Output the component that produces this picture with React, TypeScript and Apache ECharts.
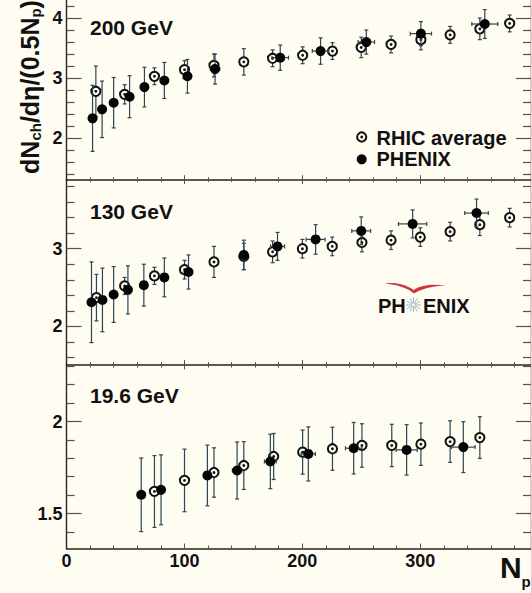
import React, { useEffect, useRef } from 'react';
import * as echarts from 'echarts';

const W = 531;
const H = 593;
const BG = '#fffcf2';
const INK = '#111111';
const LINE = '#2a2222';
const TICK = '#4a5558';
const ERR = '#2c4652';
const FONT = '"Liberation Sans", Arial, Helvetica, sans-serif';

// ---------- data: 200 GeV ----------
const phenix200Np = [22.1, 30.2, 40.0, 53.5, 66.1, 83.0, 102.6, 126.0, 181.3, 215.5, 254.3, 300.6, 354.8];
const phenix200Val = [2.33, 2.48, 2.59, 2.69, 2.85, 2.96, 3.03, 3.15, 3.34, 3.45, 3.60, 3.74, 3.90];
const phenix200Err = [0.55, 0.47, 0.42, 0.35, 0.33, 0.30, 0.28, 0.25, 0.21, 0.22, 0.20, 0.20, 0.24];
const phenix200NpErr = [0, 0, 0, 0, 0, 0, 0, 4, 7, 7, 7, 9, 11];
const rhic200Np = [24.9, 49.3, 74.6, 100.1, 125.1, 150.4, 174.8, 200.3, 225.6, 250.0, 275.3, 300.6, 325.4, 350.6, 375.9];
const rhic200Val = [2.78, 2.73, 3.03, 3.14, 3.21, 3.27, 3.33, 3.38, 3.45, 3.51, 3.56, 3.64, 3.72, 3.82, 3.91];
const rhic200Err = [0.42, 0.16, 0.14, 0.15, 0.19, 0.22, 0.14, 0.14, 0.14, 0.17, 0.14, 0.17, 0.14, 0.18, 0.14];

// ---------- data: 130 GeV ----------
const phenix130Np = [21.2, 30.5, 40.0, 52.1, 65.6, 83.0, 103.5, 150.4, 179.0, 211.3, 250.0, 293.6, 347.8];
const phenix130Val = [2.31, 2.34, 2.41, 2.47, 2.53, 2.63, 2.70, 2.92, 3.03, 3.12, 3.23, 3.32, 3.46];
const phenix130Err = [0.52, 0.41, 0.36, 0.31, 0.27, 0.25, 0.22, 0.19, 0.18, 0.19, 0.18, 0.18, 0.18];
const phenix130NpErr = [0, 0, 0, 0, 0, 0, 0, 0, 6, 8, 8, 12, 10];
const rhic130Np = [25.4, 49.3, 74.6, 100.1, 125.1, 150.4, 174.8, 200.1, 225.4, 250.6, 275.3, 300.1, 325.4, 350.6, 375.9];
const rhic130Val = [2.37, 2.52, 2.65, 2.73, 2.83, 2.90, 2.96, 3.00, 3.03, 3.08, 3.11, 3.15, 3.22, 3.31, 3.40];
const rhic130Err = [0.30, 0.11, 0.11, 0.12, 0.20, 0.17, 0.14, 0.12, 0.12, 0.12, 0.12, 0.12, 0.12, 0.14, 0.12];

// ---------- data: 19.6 GeV ----------
const phenix19Np = [63.4, 80.2, 119.5, 144.7, 172.9, 205.1, 243.6, 288.5, 336.6];
const phenix19Val = [1.602, 1.629, 1.707, 1.734, 1.783, 1.824, 1.855, 1.846, 1.861];
const phenix19Err = [0.20, 0.19, 0.165, 0.155, 0.148, 0.147, 0.14, 0.137, 0.138];
const phenix19NpErr = [0, 0, 3, 4, 5, 6, 7, 9, 10];
const rhic19Np = [74.6, 100.1, 125.1, 150.4, 175.7, 200.3, 225.6, 250.6, 275.9, 300.6, 325.4, 350.6];
const rhic19Val = [1.62, 1.68, 1.723, 1.761, 1.81, 1.834, 1.852, 1.87, 1.87, 1.877, 1.891, 1.913];
const rhic19Err = [0.195, 0.17, 0.134, 0.13, 0.125, 0.12, 0.117, 0.118, 0.115, 0.115, 0.113, 0.113];

// ---------- axis ticks / labels ----------
const xTickLabels = [0, 100, 200, 300];
const xMajorTicks = [100, 200, 300];
const xMinorTicks = [20, 40, 60, 80, 120, 140, 160, 180, 220, 240, 260, 280, 320, 340, 360, 380];
const yLabels200 = [2, 3, 4];
const yMinor200 = [1.4, 1.6, 1.8, 2.2, 2.4, 2.6, 2.8, 3.2, 3.4, 3.6, 3.8, 4.2];
const yLabels130 = [2, 3];
const yMinor130 = [1.6, 1.8, 2.2, 2.4, 2.6, 2.8, 3.2, 3.4, 3.6, 3.8];
const yLabels19 = [1.5, 2];
const yMinor19 = [1.4, 1.6, 1.7, 1.8, 1.9, 2.1, 2.2, 2.3];
const panelLabels = ['200 GeV', '130 GeV', '19.6 GeV'];

const X_MAX = 394;

const swooshPath =
  'M0 0 C 10 -1.5 21 1 28.5 6.5 C 36 1.5 47 0.5 61 2 C 48 2.5 37 5 29 10 C 22 4 11 1 0 0 Z';

function toData(np: number[], val: number[], err: number[], npErr?: number[]) {
  return np.map((x, i) => [x, val[i], err[i], npErr ? npErr[i] : 0]);
}

function makeRender(kind: 'open' | 'filled') {
  return (params: any, api: any) => {
    const x = api.value(0);
    const y = api.value(1);
    const ey = api.value(2);
    const ex = api.value(3);
    const c = api.coord([x, y]);
    const t = api.coord([x, y + ey]);
    const b = api.coord([x, y - ey]);
    const st = { stroke: ERR, lineWidth: 1.2 };
    const children: any[] = [
      { type: 'line', shape: { x1: c[0], y1: t[1], x2: c[0], y2: b[1] }, style: st },
      { type: 'line', shape: { x1: c[0] - 2, y1: t[1], x2: c[0] + 2, y2: t[1] }, style: st },
      { type: 'line', shape: { x1: c[0] - 2, y1: b[1], x2: c[0] + 2, y2: b[1] }, style: st },
    ];
    if (ex > 0) {
      const l = api.coord([x - ex, y]);
      const r = api.coord([x + ex, y]);
      children.push(
        { type: 'line', shape: { x1: l[0], y1: c[1], x2: r[0], y2: c[1] }, style: st },
        { type: 'line', shape: { x1: l[0], y1: c[1] - 2, x2: l[0], y2: c[1] + 2 }, style: st },
        { type: 'line', shape: { x1: r[0], y1: c[1] - 2, x2: r[0], y2: c[1] + 2 }, style: st }
      );
    }
    if (kind === 'open') {
      children.push(
        { type: 'circle', shape: { cx: c[0], cy: c[1], r: 4.6 }, style: { fill: BG, stroke: INK, lineWidth: 2 } },
        { type: 'circle', shape: { cx: c[0], cy: c[1], r: 1.4 }, style: { fill: INK } }
      );
    } else {
      children.push({ type: 'circle', shape: { cx: c[0], cy: c[1], r: 5 }, style: { fill: '#050505' } });
    }
    return { type: 'group', children };
  };
}

const labelStyle = { color: INK, fontSize: 18, fontWeight: 'bold' as const, fontFamily: FONT };

function xAxes(g: number, showLabels: boolean, showTopTicks: boolean) {
  const base = { type: 'value', gridIndex: g, min: 0, max: X_MAX, splitLine: { show: false } };
  const tickStyle = { color: TICK, width: 1 };
  return [
    {
      ...base,
      position: 'bottom',
      axisLine: { show: true, onZero: false, lineStyle: { color: LINE, width: 1.5 } },
      axisTick: { show: true, inside: true, length: 5, customValues: xMajorTicks, lineStyle: tickStyle },
      axisLabel: { show: showLabels, customValues: xTickLabels, margin: 3, ...labelStyle },
    },
    {
      ...base,
      position: 'bottom',
      axisLine: { show: false, onZero: false },
      axisTick: { show: true, inside: true, length: 3, customValues: xMinorTicks, lineStyle: tickStyle },
      axisLabel: { show: false },
    },
    {
      ...base,
      position: 'top',
      axisLine: { show: false, onZero: false },
      axisTick: { show: showTopTicks, inside: true, length: 5, customValues: xMajorTicks, lineStyle: tickStyle },
      axisLabel: { show: false },
    },
    {
      ...base,
      position: 'top',
      axisLine: { show: false, onZero: false },
      axisTick: { show: showTopTicks, inside: true, length: 3, customValues: xMinorTicks, lineStyle: tickStyle },
      axisLabel: { show: false },
    },
  ];
}

function yAxes(g: number, min: number, max: number, majors: number[], minors: number[]) {
  const base = { type: 'value', gridIndex: g, min, max, splitLine: { show: false } };
  const tickStyle = { color: TICK, width: 1.2 };
  return [
    {
      ...base,
      position: 'left',
      axisLine: { show: true, onZero: false, lineStyle: { color: LINE, width: 1.4 } },
      axisTick: { show: true, inside: true, length: 15, customValues: majors, lineStyle: tickStyle },
      axisLabel: { show: true, customValues: majors, margin: 4, ...labelStyle, formatter: (v: number) => String(v) },
    },
    {
      ...base,
      position: 'left',
      axisLine: { show: false, onZero: false },
      axisTick: { show: true, inside: true, length: 8, customValues: minors, lineStyle: tickStyle },
      axisLabel: { show: false },
    },
    {
      ...base,
      position: 'right',
      axisLine: { show: true, onZero: false, lineStyle: { color: LINE, width: 1.4 } },
      axisTick: { show: true, inside: true, length: 15, customValues: majors, lineStyle: tickStyle },
      axisLabel: { show: false },
    },
    {
      ...base,
      position: 'right',
      axisLine: { show: false, onZero: false },
      axisTick: { show: true, inside: true, length: 8, customValues: minors, lineStyle: tickStyle },
      axisLabel: { show: false },
    },
  ];
}

function txt(text: string, x: number, y: number, size: number, align = 'left', extra: any = {}) {
  return {
    type: 'text',
    x,
    y,
    z: 100,
    ...extra,
    style: {
      text,
      fontSize: size,
      fontWeight: 'bold',
      fontFamily: FONT,
      fill: INK,
      align,
      verticalAlign: 'middle',
      textAlign: align,
      textVerticalAlign: 'middle',
    },
  };
}

export default function App() {
  const ref = useRef<HTMLDivElement>(null);

  useEffect(() => {
    if (!ref.current) return;
    try {
      echarts.graphic.registerShape('swoosh', echarts.graphic.extendPath(swooshPath, {}) as any);
    } catch (e) {
      /* already registered */
    }
    const chart = echarts.init(ref.current, undefined, { renderer: 'svg', width: W, height: H });

    const gridLeft = 66.5;
    const gridRight = -4;
    const grids = [
      { left: gridLeft, right: gridRight, top: -3.7, height: 183.9 },
      { left: gridLeft, right: gridRight, top: 178.9, height: 186.2 },
      { left: gridLeft, right: gridRight, top: 364.5, height: 184 },
    ];

    const xAxis = [...xAxes(0, false, false), ...xAxes(1, false, true), ...xAxes(2, true, true)];
    const yAxis = [
      ...yAxes(0, 1.3, 4.3, yLabels200, yMinor200),
      ...yAxes(1, 1.5, 3.9, yLabels130, yMinor130),
      ...yAxes(2, 1.31, 2.31, yLabels19, yMinor19),
    ];

    const panelData = [
      { rhic: toData(rhic200Np, rhic200Val, rhic200Err), phenix: toData(phenix200Np, phenix200Val, phenix200Err, phenix200NpErr) },
      { rhic: toData(rhic130Np, rhic130Val, rhic130Err), phenix: toData(phenix130Np, phenix130Val, phenix130Err, phenix130NpErr) },
      { rhic: toData(rhic19Np, rhic19Val, rhic19Err), phenix: toData(phenix19Np, phenix19Val, phenix19Err, phenix19NpErr) },
    ];

    const series: any[] = [];
    panelData.forEach((p, g) => {
      series.push({
        type: 'custom',
        name: 'RHIC average',
        xAxisIndex: g * 4,
        yAxisIndex: g * 4,
        renderItem: makeRender('open'),
        dimensions: ['x', 'y', 'ey', 'ex'],
        encode: { x: 0, y: 1 },
        data: p.rhic,
        z: 5,
      });
      series.push({
        type: 'custom',
        name: 'PHENIX',
        xAxisIndex: g * 4,
        yAxisIndex: g * 4,
        renderItem: makeRender('filled'),
        dimensions: ['x', 'y', 'ey', 'ex'],
        encode: { x: 0, y: 1 },
        data: p.phenix,
        z: 6,
      });
    });

    // star rays for logo
    const starCx = 413.5;
    const starCy = 305;
    const rays: any[] = [];
    for (let k = 0; k < 12; k++) {
      const a = (k * Math.PI) / 6;
      rays.push({
        type: 'line',
        z: 100,
        shape: {
          x1: starCx + Math.cos(a) * 1.5,
          y1: starCy + Math.sin(a) * 1.5,
          x2: starCx + Math.cos(a) * 7.5,
          y2: starCy + Math.sin(a) * 7.5,
        },
        style: { stroke: '#9db8c8', lineWidth: 1 },
      });
    }

    const graphic: any[] = [
      txt(panelLabels[0], 90, 27, 21),
      txt(panelLabels[1], 90, 211.5, 21),
      txt(panelLabels[2], 90, 395.5, 21),
      // legend
      { type: 'circle', z: 100, shape: { cx: 361.7, cy: 137, r: 4.6 }, style: { fill: BG, stroke: INK, lineWidth: 2 } },
      { type: 'circle', z: 101, shape: { cx: 361.7, cy: 137, r: 1.4 }, style: { fill: INK } },
      txt('RHIC average', 376.5, 137.5, 20),
      { type: 'circle', z: 100, shape: { cx: 361.7, cy: 159.3, r: 5 }, style: { fill: '#050505' } },
      txt('PHENIX', 376.5, 159, 20),
      // PHENIX logo
      { type: 'swoosh', x: 385, y: 283.5, z: 100, style: { fill: '#c8242c', opacity: 0.9 } },
      txt('PH', 378, 305.5, 20),
      txt('ENIX', 423, 305.5, 20),
      ...rays,
      // y-axis title
      {
        type: 'text',
        x: 30,
        y: 87,
        rotation: Math.PI / 2,
        z: 100,
        style: {
          text: '{a|dN}{s|ch}{a|/dη/(0.5N}{s|p}{a|)}',
          align: 'center',
          verticalAlign: 'middle',
          textAlign: 'center',
          textVerticalAlign: 'middle',
          fill: INK,
          rich: {
            a: { fontSize: 25, fontWeight: 'bold', fontFamily: FONT, fill: INK, color: INK },
            s: { fontSize: 15, fontWeight: 'bold', fontFamily: FONT, fill: INK, color: INK, padding: [11, 0, 0, 0] },
          },
        },
      },
      // x-axis title
      txt('N', 500, 567, 30),
      txt('p', 521.5, 581, 15),
    ];

    chart.setOption({
      animation: false,
      backgroundColor: BG,
      grid: grids,
      xAxis,
      yAxis,
      series,
      graphic,
    });

    return () => {
      chart.dispose();
    };
  }, []);

  return (
    <div
      ref={ref}
      style={{ position: 'fixed', left: 0, top: 0, width: W, height: H, background: BG }}
    />
  );
}
